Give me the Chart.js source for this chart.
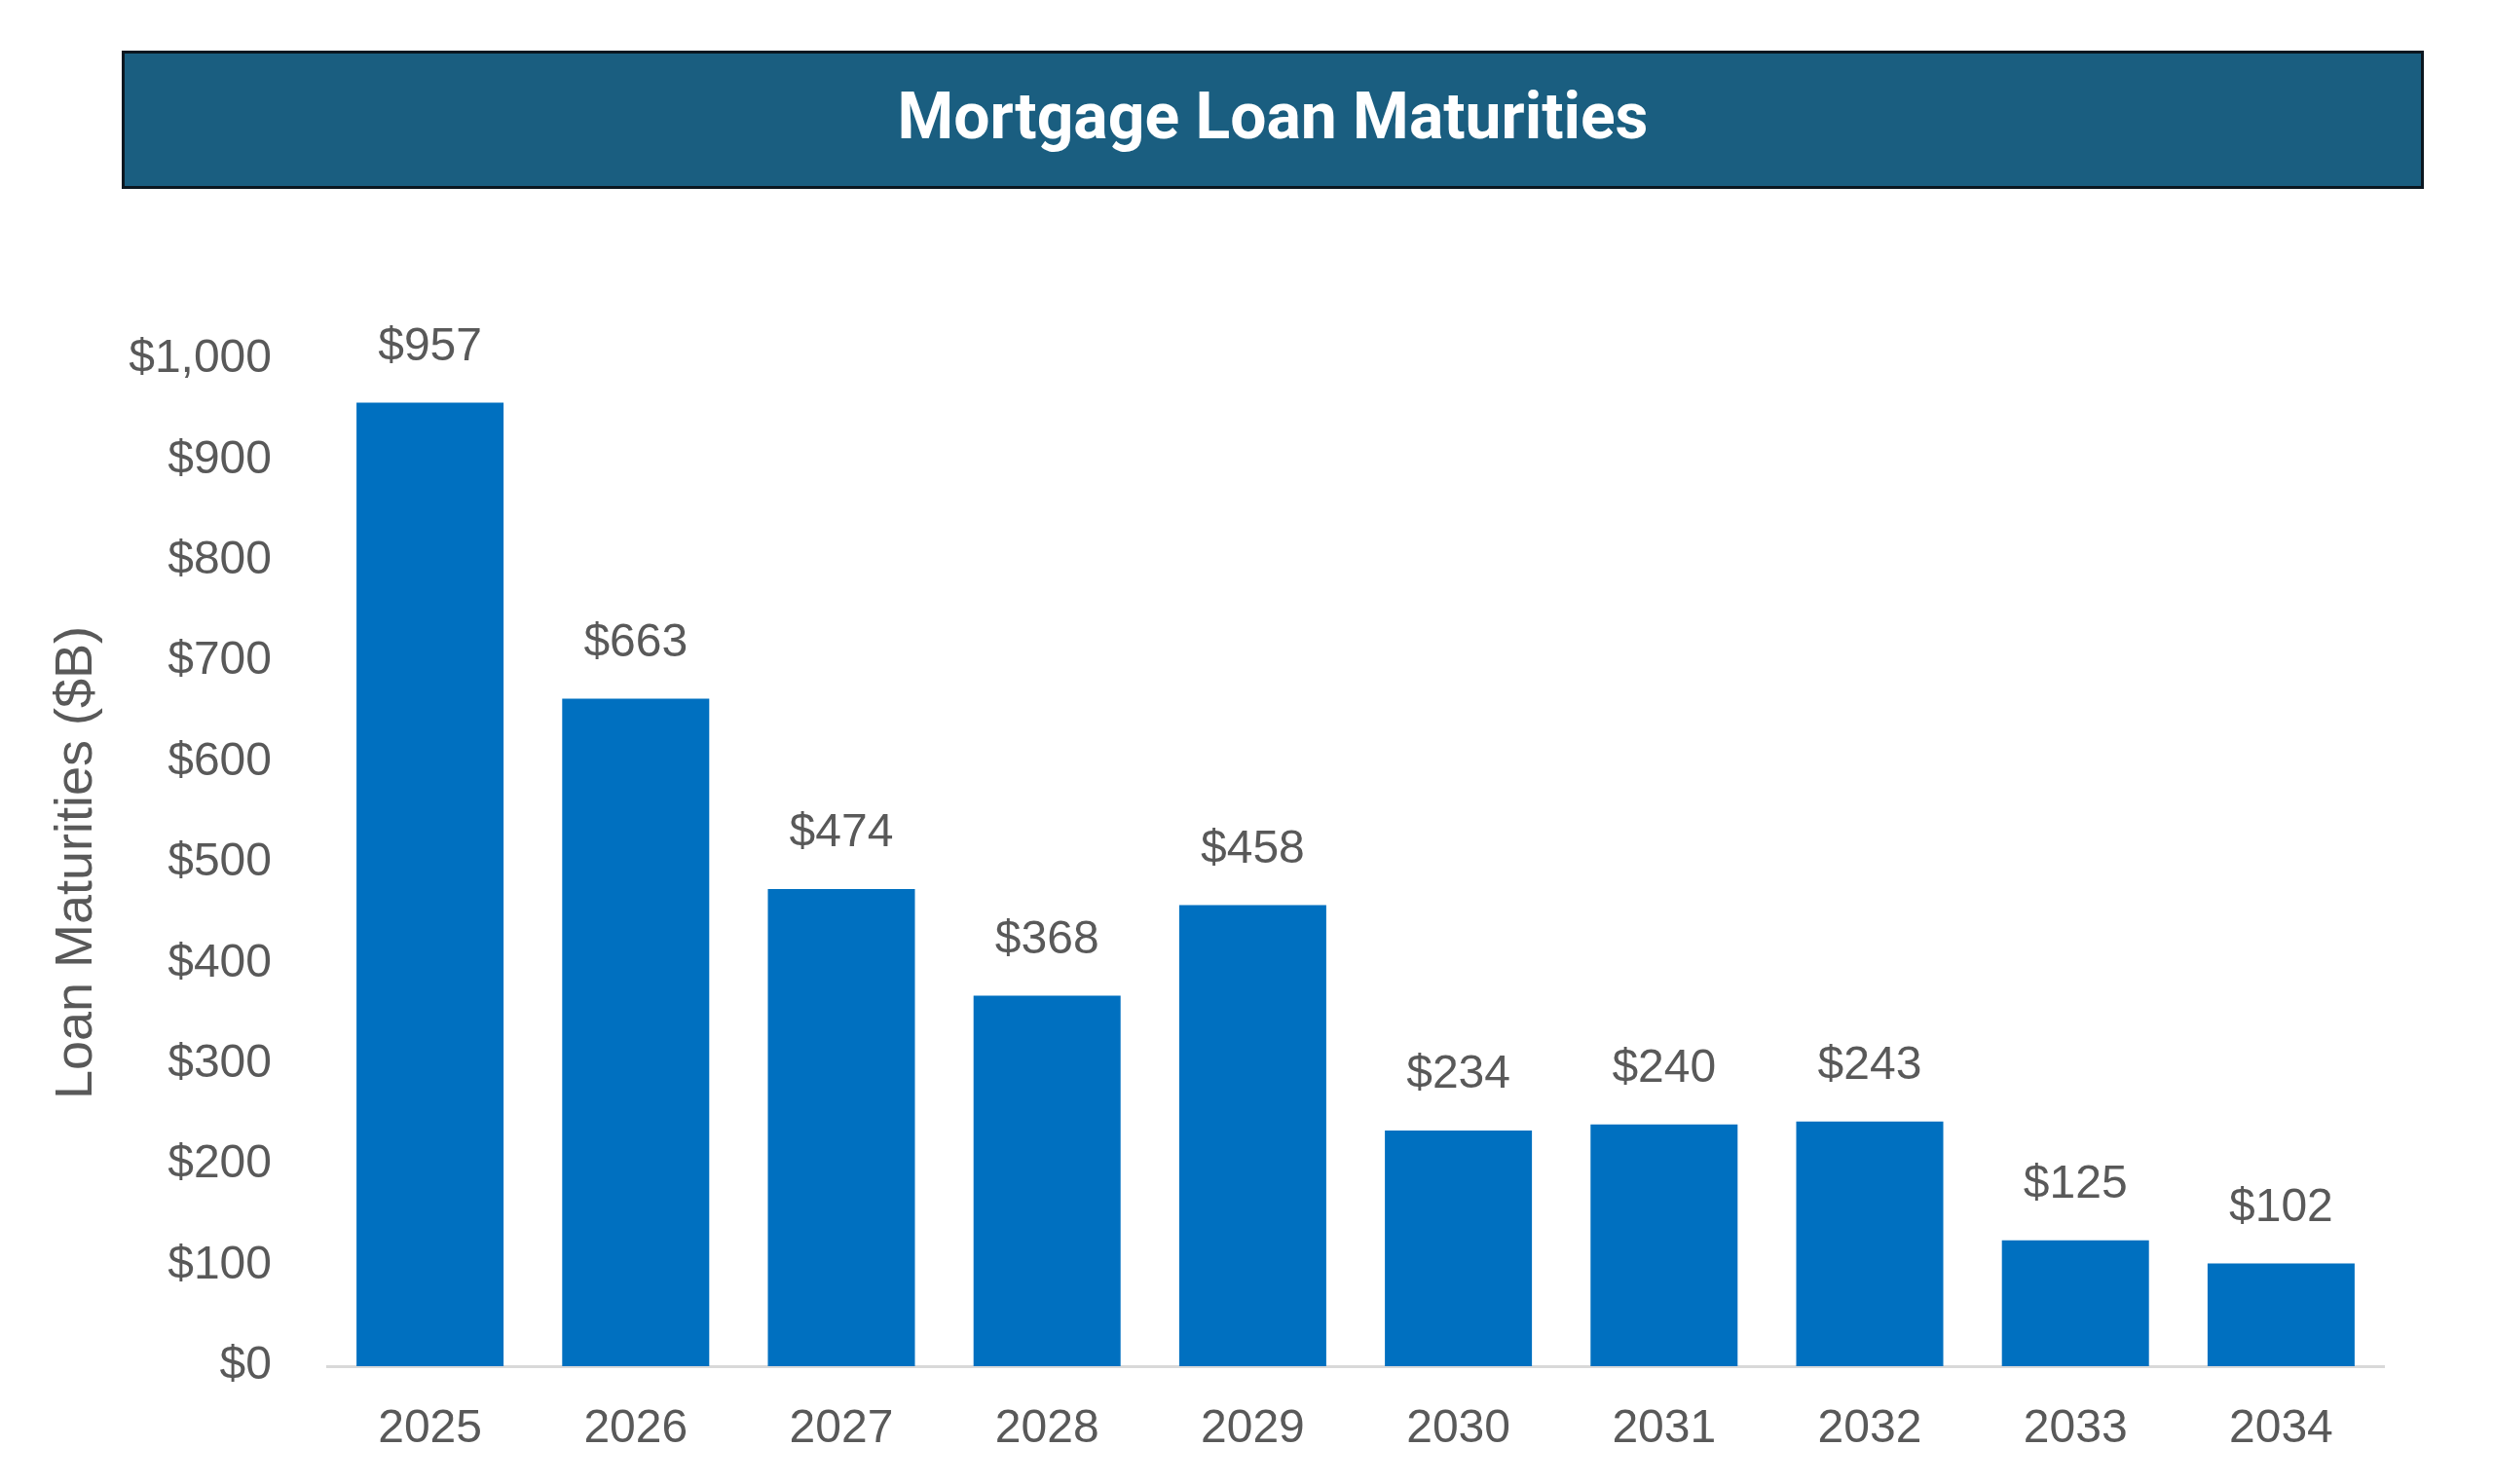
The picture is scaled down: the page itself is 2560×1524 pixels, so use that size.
<!DOCTYPE html>
<html>
<head>
<meta charset="utf-8">
<title>Mortgage Loan Maturities</title>
<script src="https://cdn.jsdelivr.net/npm/chart.js@4.4.1/dist/chart.umd.min.js"></script>
<style>
    html, body { margin: 0; padding: 0; background: #fff; }
    #wrap { position: relative; width: 2560px; height: 1524px; overflow: hidden; }
    #chartBox { position: absolute; left: 0; top: 0; width: 2560px; height: 1524px; }
    #banner {
        position: absolute; left: 125px; top: 52px;
        width: 2358px; height: 128px;
        background: #1a5e80; border: 3px solid #0b1720;
        color: #fff; font: 700 66px Roboto, sans-serif;
        display: flex; align-items: center; justify-content: center;
        padding-bottom: 8px; box-sizing: content-box;
    }
</style>
</head>
<body>
<div id="wrap">
    <div id="chartBox"><canvas id="loanChart"></canvas></div>
    <div id="banner">Mortgage Loan Maturities</div>
</div>
<script>
const years = ['2025', '2026', '2027', '2028', '2029', '2030', '2031', '2032', '2033', '2034'];
const maturities = [957, 663, 474, 368, 458, 234, 240, 243, 125, 102];
const yTickValues = [0, 100, 200, 300, 400, 500, 600, 700, 800, 900, 1000];

const textGray = '#595959';

function money(v) {
    return '$' + Number(v).toLocaleString('en-US');
}

// values above each bar, like Excel data labels
const barLabels = {
    id: 'barLabels',
    afterDatasetsDraw(chart) {
        const ctx = chart.ctx;
        const meta = chart.getDatasetMeta(0);
        ctx.save();
        ctx.font = '48px "Liberation Sans", Arial, sans-serif';
        ctx.fillStyle = textGray;
        ctx.textAlign = 'center';
        ctx.textBaseline = 'middle';
        meta.data.forEach((bar, i) => {
            ctx.fillText(money(maturities[i]), bar.x, bar.y - 57);
        });
        ctx.restore();
    }
};

Chart.defaults.font.family = '"Liberation Sans", Arial, sans-serif';
Chart.defaults.color = textGray;

const ctx = document.getElementById('loanChart').getContext('2d');
new Chart(ctx, {
    type: 'bar',
    data: {
        labels: years,
        datasets: [{
            label: 'Loan Maturities ($B)',
            data: maturities,
            backgroundColor: '#0070c0',
            borderWidth: 0,
            barPercentage: 0.715,
            categoryPercentage: 1
        }]
    },
    options: {
        responsive: true,
        maintainAspectRatio: false,
        devicePixelRatio: 1,
        animation: false,
        layout: {
            padding: { left: 43, right: 112, top: 369, bottom: 2 }
        },
        plugins: {
            legend: { display: false },
            title: { display: false },
            tooltip: { enabled: false }
        },
        scales: {
            x: {
                grid: { display: false, drawTicks: false },
                border: { display: true, color: '#d9d9d9', width: 3 },
                ticks: { font: { size: 48 }, color: textGray, padding: 36 },
                afterFit: s => { s.height = 119; }
            },
            y: {
                min: 0,
                max: 1000,
                grid: { display: false, drawTicks: false },
                border: { display: false },
                afterBuildTicks: s => { s.ticks = yTickValues.map(v => ({ value: v })); },
                ticks: {
                    font: { size: 48 },
                    color: textGray,
                    padding: 57,
                    callback: v => money(v)
                },
                title: {
                    display: true,
                    text: 'Loan Maturities ($B)',
                    font: { size: 54 },
                    color: textGray,
                    padding: { top: 4, bottom: 0 }
                },
                afterFit: s => { s.width = 293; }
            }
        }
    },
    plugins: [barLabels]
});
</script>
</body>
</html>
